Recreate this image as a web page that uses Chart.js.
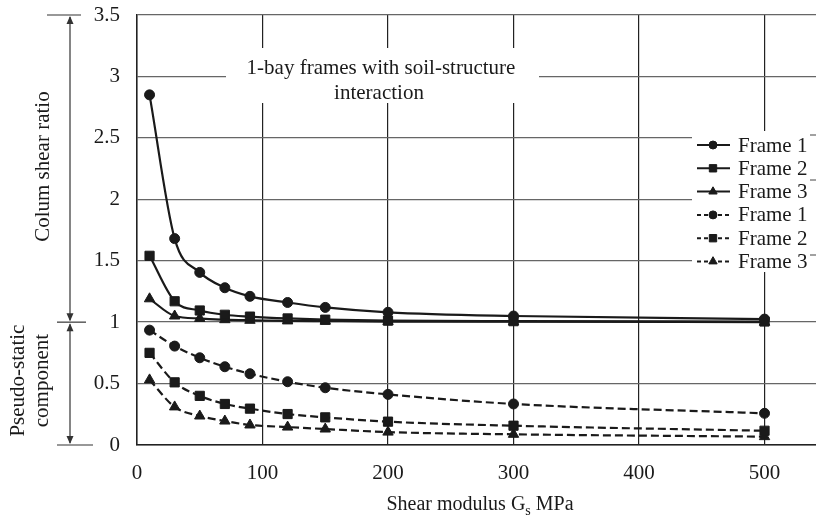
<!DOCTYPE html>
<html>
<head>
<meta charset="utf-8">
<script src="https://cdn.jsdelivr.net/npm/chart.js@4.4.1/dist/chart.umd.min.js"></script>
<style>
  html, body { margin: 0; padding: 0; background: #fff; overflow: hidden; }
  #wrap { width: 816px; height: 517px; overflow: hidden; }
</style>
</head>
<body>
<div id="wrap"><canvas id="shearChart" width="890" height="517"></canvas></div>
<script>
// shear modulus Gs (MPa)
const modulus = [10, 30, 50, 70, 90, 120, 150, 200, 300, 500];

// column shear ratio, with soil-structure interaction (solid)
const ssiFrame1 = [2.85, 1.68, 1.405, 1.28, 1.21, 1.16, 1.12, 1.08, 1.05, 1.025];
const ssiFrame2 = [1.54, 1.17, 1.095, 1.06, 1.045, 1.03, 1.02, 1.012, 1.008, 1.005];
const ssiFrame3 = [1.19, 1.05, 1.03, 1.02, 1.015, 1.01, 1.008, 1.005, 1.003, 1.0];

// pseudo-static component (dashed)
const psFrame1 = [0.935, 0.805, 0.71, 0.637, 0.58, 0.515, 0.466, 0.412, 0.334, 0.258];
const psFrame2 = [0.75, 0.51, 0.40, 0.334, 0.296, 0.252, 0.225, 0.19, 0.157, 0.116];
const psFrame3 = [0.53, 0.31, 0.236, 0.195, 0.163, 0.146, 0.13, 0.105, 0.087, 0.068];

const frameNames = ['Frame 1', 'Frame 2', 'Frame 3', 'Frame 1', 'Frame 2', 'Frame 3'];
const xTicks = [0, 100, 200, 300, 400, 500];
const yTicks = [0, 0.5, 1, 1.5, 2, 2.5, 3, 3.5];
const noteLines = ['1-bay frames with soil-structure', 'interaction'];

const serif = "'Liberation Serif', 'Times New Roman', serif";
const ink = '#1a1a1a';
const textSize = 21;

function serie(label, values, style, radius, dashed) {
    return {
        label: label,
        data: modulus.map((g, i) => ({ x: g, y: values[i] })),
        borderColor: ink,
        backgroundColor: ink,
        borderWidth: 2.2,
        borderDash: dashed ? [8, 4] : [],
        pointStyle: style,
        pointRadius: radius,
        pointBorderWidth: 1,
        pointBackgroundColor: ink,
        pointBorderColor: ink,
        tension: 0.4,
        cubicInterpolationMode: 'monotone',
        fill: false
    };
}

function arrowHead(ctx, x, y, dir) {
    ctx.beginPath();
    ctx.moveTo(x, y);
    ctx.lineTo(x - 3.5, y - dir * 8);
    ctx.lineTo(x + 3.5, y - dir * 8);
    ctx.closePath();
    ctx.fill();
}

function line(ctx, x1, y1, x2, y2) {
    ctx.beginPath();
    ctx.moveTo(x1, y1);
    ctx.lineTo(x2, y2);
    ctx.stroke();
}

function vText(ctx, text, x, y) {
    ctx.save();
    ctx.translate(x, y);
    ctx.rotate(-Math.PI / 2);
    ctx.fillText(text, 0, 0);
    ctx.restore();
}

// drop the label overhang so the plot box sits where the padding says
function noOverhang(s) {
    s.paddingTop = 0;
    s.paddingBottom = 0;
    s.paddingLeft = 0;
    s.paddingRight = 0;
}

const extras = {
    id: 'extras',
    afterDatasetsDraw(chart) {
        const ctx = chart.ctx;
        ctx.save();

        // caption box over the grid
        ctx.fillStyle = '#fff';
        ctx.fillRect(226, 48, 313, 55);
        ctx.fillStyle = ink;
        ctx.font = textSize + 'px ' + serif;
        ctx.textAlign = 'center';
        ctx.textBaseline = 'middle';
        ctx.fillText(noteLines[0], 381, 68);
        ctx.fillText(noteLines[1], 379, 93);

        // legend
        ctx.fillStyle = '#fff';
        ctx.fillRect(692, 131, 200, 141);
        ctx.textAlign = 'left';
        chart.data.datasets.forEach((ds, i) => {
            const yy = 145 + i * 23.3;
            ctx.strokeStyle = ink;
            ctx.lineWidth = 2;
            ctx.setLineDash(ds.borderDash.length ? [4, 3] : []);
            line(ctx, 697, yy, 730, yy);
            ctx.setLineDash([]);
            ctx.fillStyle = ink;
            ctx.lineWidth = 1;
            Chart.helpers.drawPoint(ctx, {
                pointStyle: ds.pointStyle,
                radius: ds.pointRadius * 0.8,
                rotation: 0,
                borderWidth: 1
            }, 713, yy);
            ctx.fillStyle = ink;
            ctx.fillText(ds.label, 738, yy + 1);
        });

        // small stubs at the right edge
        ctx.strokeStyle = '#444';
        ctx.lineWidth = 1;
        [135, 180, 255].forEach(yy => line(ctx, 810, yy, 816, yy));
        ctx.restore();
    },
    afterDraw(chart) {
        const ctx = chart.ctx;
        const y = chart.scales.y;
        const yTop = y.getPixelForValue(3.5);
        const yMid = y.getPixelForValue(1);
        const yBot = y.getPixelForValue(0);
        ctx.save();

        // brackets on the left side
        ctx.strokeStyle = '#333';
        ctx.fillStyle = '#333';
        ctx.lineWidth = 1.2;
        line(ctx, 47, yTop, 81, yTop);
        line(ctx, 57, yMid, 86, yMid);
        line(ctx, 57, yBot, 93, yBot);
        line(ctx, 70, yTop + 2, 70, yMid - 2);
        line(ctx, 70, yMid + 2, 70, yBot - 2);
        arrowHead(ctx, 70, yTop + 1, -1);
        arrowHead(ctx, 70, yMid - 1, 1);
        arrowHead(ctx, 70, yMid + 1, -1);
        arrowHead(ctx, 70, yBot - 1, 1);

        ctx.fillStyle = ink;
        ctx.font = textSize + 'px ' + serif;
        ctx.textAlign = 'center';
        ctx.textBaseline = 'middle';
        vText(ctx, 'Colum shear ratio', 43, (yTop + yMid) / 2 - 2);
        vText(ctx, 'Pseudo-static', 18, (yMid + yBot) / 2 - 3);
        vText(ctx, 'component', 42, (yMid + yBot) / 2 - 3);

        // x axis title with subscript
        const a = 'Shear modulus G', b = 's', c = ' MPa';
        ctx.textAlign = 'left';
        ctx.textBaseline = 'alphabetic';
        ctx.font = '20px ' + serif;
        const wa = ctx.measureText(a).width, wc = ctx.measureText(c).width;
        ctx.font = '14px ' + serif;
        const wb = ctx.measureText(b).width;
        let x0 = 480 - (wa + wb + wc) / 2;
        ctx.font = '20px ' + serif;
        ctx.fillText(a, x0, 510);
        ctx.font = '14px ' + serif;
        ctx.fillText(b, x0 + wa, 515);
        ctx.font = '20px ' + serif;
        ctx.fillText(c, x0 + wa + wb, 510);
        ctx.restore();
    }
};

const ctx = document.getElementById('shearChart').getContext('2d');
new Chart(ctx, {
    type: 'line',
    data: {
        datasets: [
            serie(frameNames[0], ssiFrame1, 'circle', 5, false),
            serie(frameNames[1], ssiFrame2, 'rect', 6.5, false),
            serie(frameNames[2], ssiFrame3, 'triangle', 6, false),
            serie(frameNames[3], psFrame1, 'circle', 5, true),
            serie(frameNames[4], psFrame2, 'rect', 6.5, true),
            serie(frameNames[5], psFrame3, 'triangle', 6, true)
        ]
    },
    options: {
        responsive: false,
        animation: false,
        layout: { padding: { top: 15, right: 0, left: 0, bottom: 0 } },
        plugins: {
            legend: { display: false },
            tooltip: { enabled: false }
        },
        scales: {
            x: {
                type: 'linear',
                min: 0,
                max: 594,
                afterBuildTicks: s => { s.ticks = xTicks.map(v => ({ value: v })); },
                afterFit: s => { s.height = 72; noOverhang(s); },
                grid: { color: '#222', lineWidth: 1.2, drawTicks: false, tickLength: 0 },
                border: { color: '#222', width: 1.5 },
                ticks: {
                    color: ink,
                    padding: 16,
                    maxRotation: 0,
                    font: { family: serif, size: textSize }
                }
            },
            y: {
                min: 0,
                max: 3.5,
                afterBuildTicks: s => { s.ticks = yTicks.map(v => ({ value: v })); },
                afterFit: s => { s.width = 137; noOverhang(s); },
                grid: { color: '#666', lineWidth: 1.3, drawTicks: false, tickLength: 0 },
                border: { color: '#222', width: 1.5 },
                ticks: {
                    color: ink,
                    padding: 17,
                    font: { family: serif, size: textSize },
                    callback: v => String(v)
                }
            }
        }
    },
    plugins: [extras]
});
</script>
</body>
</html>
